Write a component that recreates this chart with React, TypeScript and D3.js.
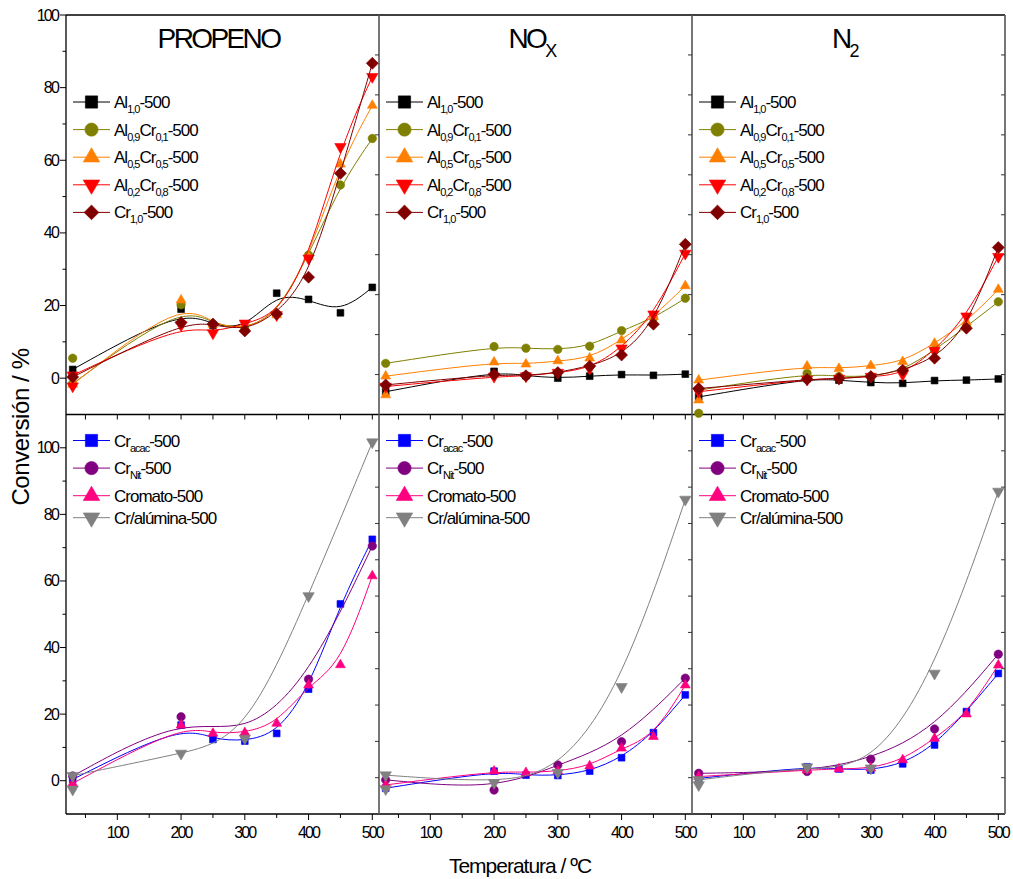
import React from 'react';
import * as d3 from 'd3';

// Reaction temperatures (ºC)
const TEMPS = [30, 200, 250, 300, 350, 400, 450, 500];
const TEMPS_SPARSE = [30, 200, 300, 400, 500];
const X_DOMAIN: [number, number] = [19.5, 510.5];
const X_MAJOR = [100, 200, 300, 400, 500];
const X_MINOR = [50, 150, 250, 350, 450];

// Conversion (%) — upper row: mixed Al/Cr oxides
const propAl10 = [2.4, 19.0, 14.6, 13.5, 23.4, 21.7, 18.0, 25.0];
const propAl09 = [-1.5, 20.2, 14.9, 13.5, 17.6, 33.9, 53.2, 66.0];
const propAl05 = [-1.7, 21.5, 14.8, 13.5, 17.4, 33.5, 58.9, 75.1];
const propAl02 = [0.8, 14.6, 12.4, 15.1, 17.4, 33.0, 63.7, 83.0];
const propCr10 = [0.3, 15.3, 14.9, 13.0, 17.7, 27.8, 56.4, 86.7];

const noxAl10 = [-4.3, 0.8, -0.3, -0.9, -0.4, 0.0, -0.2, 0.1];
const noxAl09 = [2.8, 7.0, 6.6, 6.3, 7.1, 11.0, 14.1, 19.1];
const noxAl05 = [-0.4, 3.1, 2.6, 3.4, 4.1, 8.6, 14.5, 22.2];
const noxAl02 = [-3.0, -0.5, -0.4, 0.5, 1.5, 6.6, 15.1, 30.3];
const noxCr10 = [-2.6, 0.0, -0.3, 0.5, 2.1, 4.9, 12.6, 32.6];

const n2Al10 = [-5.6, -1.0, -1.4, -2.0, -2.2, -1.5, -1.4, -1.1];
const n2Al09 = [-3.9, 0.3, -0.5, -0.5, 1.0, 6.1, 12.0, 18.2];
const n2Al05 = [-1.4, 2.1, 1.5, 2.2, 3.2, 7.8, 13.2, 21.3];
const n2Al02 = [-4.3, -1.2, -1.0, -0.5, 0.0, 6.0, 14.6, 29.5];
const n2Cr10 = [-3.5, -1.2, -1.0, -0.5, 1.1, 4.1, 11.6, 31.8];

// Second reading taken at the starting temperature
const propAl09Repeat = 5.5;
const propAl02Repeat = -2.2;
const noxAl05Repeat = -5.1;
const n2Al09Repeat = -9.7;
const n2Al05Repeat = -6.4;

// Conversion (%) — lower row: Cr catalysts from different precursors
const bpCrAcac = [0.4, 16.7, 12.4, 11.9, 14.2, 27.5, 53.1, 72.5];
const bpCrNit = [1.4, 19.2, 13.4, 30.5, 70.5];
const bpCromato = [-0.8, 16.7, 14.2, 14.4, 17.2, 28.7, 34.8, 61.5];
const bpCrAlum = [1.5, 8.2, 12.7, 55.5, 101.7];

const bnCrAcac = [-2.9, 1.8, 0.7, 0.6, 1.8, 5.5, 12.4, 22.8];
const bnCrNit = [-0.6, -3.4, 3.5, 9.9, 27.4];
const bnCromato = [-2.0, 1.8, 1.4, 1.8, 3.2, 8.1, 11.3, 25.5];
const bnCrAlum = [0.7, -1.4, 1.4, 25.0, 76.6];

const bzCrAcac = [-0.2, 3.0, 2.4, 2.1, 3.8, 9.0, 18.2, 28.7];
const bzCrNit = [1.2, 1.7, 5.1, 13.4, 34.0];
const bzCromato = [0.3, 2.1, 2.4, 2.6, 4.9, 10.8, 17.5, 31.0];
const bzCrAlum = [-0.6, 2.9, 2.6, 28.7, 78.8];

const bpCrAlumRepeat = -2.6;
const bnCrAlumRepeat = -3.1;
const bzCrAlumRepeat = -2.0;

type Seg = [string, boolean];
type Sym = 'square' | 'circle' | 'triangle' | 'triangleDown' | 'diamond';
interface Style { label: Seg[]; color: string; symbol: Sym; }
interface Series extends Style { temps: number[]; values: number[]; repeat?: number; }

const S_AL10: Style = { label: [['Al', false], ['1,0', true], ['-500', false]], color: '#000000', symbol: 'square' };
const S_AL09: Style = { label: [['Al', false], ['0,9', true], ['Cr', false], ['0,1', true], ['-500', false]], color: '#808000', symbol: 'circle' };
const S_AL05: Style = { label: [['Al', false], ['0,5', true], ['Cr', false], ['0,5', true], ['-500', false]], color: '#FF8000', symbol: 'triangle' };
const S_AL02: Style = { label: [['Al', false], ['0,2', true], ['Cr', false], ['0,8', true], ['-500', false]], color: '#FF0000', symbol: 'triangleDown' };
const S_CR10: Style = { label: [['Cr', false], ['1,0', true], ['-500', false]], color: '#800000', symbol: 'diamond' };
const S_ACAC: Style = { label: [['Cr', false], ['acac', true], ['-500', false]], color: '#0000FF', symbol: 'square' };
const S_NIT: Style = { label: [['Cr', false], ['Nit', true], ['-500', false]], color: '#800080', symbol: 'circle' };
const S_CROM: Style = { label: [['Cromato-500', false]], color: '#FF0080', symbol: 'triangle' };
const S_ALUM: Style = { label: [['Cr/alúmina-500', false]], color: '#808080', symbol: 'triangleDown' };

const DATA_SIZE: Record<Sym, number> = { square: 46, circle: 56, triangle: 42, triangleDown: 56, diamond: 72 };
const LEGEND_SIZE: Record<Sym, number> = { square: 150, circle: 138, triangle: 118, triangleDown: 118, diamond: 108 };

const FONT = "'Liberation Sans', Arial, Helvetica, sans-serif";

// Layout of the 3 x 2 grid of panels
const COL_X = [66, 379, 692, 1005];
const ROW_Y = [15, 414.5, 814];

interface Panel {
  col: number;
  row: number;
  yDomain: [number, number];
  title?: Seg[];
  series: Series[];
  labelled: boolean;
}

const panels: Panel[] = [
  {
    col: 0, row: 0, yDomain: [-10, 100], labelled: true, title: [['PROPENO', false]],
    series: [
      { ...S_AL10, temps: TEMPS, values: propAl10 },
      { ...S_AL09, temps: TEMPS, values: propAl09, repeat: propAl09Repeat },
      { ...S_AL05, temps: TEMPS, values: propAl05 },
      { ...S_AL02, temps: TEMPS, values: propAl02, repeat: propAl02Repeat },
      { ...S_CR10, temps: TEMPS, values: propCr10 },
    ],
  },
  {
    col: 1, row: 0, yDomain: [-10, 90], labelled: false, title: [['NO', false], ['X', true]],
    series: [
      { ...S_AL10, temps: TEMPS, values: noxAl10 },
      { ...S_AL09, temps: TEMPS, values: noxAl09 },
      { ...S_AL05, temps: TEMPS, values: noxAl05, repeat: noxAl05Repeat },
      { ...S_AL02, temps: TEMPS, values: noxAl02 },
      { ...S_CR10, temps: TEMPS, values: noxCr10 },
    ],
  },
  {
    col: 2, row: 0, yDomain: [-10, 90], labelled: false, title: [['N', false], ['2', true]],
    series: [
      { ...S_AL10, temps: TEMPS, values: n2Al10 },
      { ...S_AL09, temps: TEMPS, values: n2Al09, repeat: n2Al09Repeat },
      { ...S_AL05, temps: TEMPS, values: n2Al05, repeat: n2Al05Repeat },
      { ...S_AL02, temps: TEMPS, values: n2Al02 },
      { ...S_CR10, temps: TEMPS, values: n2Cr10 },
    ],
  },
  {
    col: 0, row: 1, yDomain: [-10, 110], labelled: true,
    series: [
      { ...S_ACAC, temps: TEMPS, values: bpCrAcac },
      { ...S_NIT, temps: TEMPS_SPARSE, values: bpCrNit },
      { ...S_CROM, temps: TEMPS, values: bpCromato },
      { ...S_ALUM, temps: TEMPS_SPARSE, values: bpCrAlum, repeat: bpCrAlumRepeat },
    ],
  },
  {
    col: 1, row: 1, yDomain: [-10, 100], labelled: false,
    series: [
      { ...S_ACAC, temps: TEMPS, values: bnCrAcac },
      { ...S_NIT, temps: TEMPS_SPARSE, values: bnCrNit },
      { ...S_CROM, temps: TEMPS, values: bnCromato },
      { ...S_ALUM, temps: TEMPS_SPARSE, values: bnCrAlum, repeat: bnCrAlumRepeat },
    ],
  },
  {
    col: 2, row: 1, yDomain: [-10, 100], labelled: false,
    series: [
      { ...S_ACAC, temps: TEMPS, values: bzCrAcac },
      { ...S_NIT, temps: TEMPS_SPARSE, values: bzCrNit },
      { ...S_CROM, temps: TEMPS, values: bzCromato },
      { ...S_ALUM, temps: TEMPS_SPARSE, values: bzCrAlum, repeat: bzCrAlumRepeat },
    ],
  },
];

function symbolPath(sym: Sym, size: number): string {
  const gen = d3.symbol();
  if (sym === 'circle') return gen.type(d3.symbolCircle).size(size)() as string;
  if (sym === 'triangle' || sym === 'triangleDown') return gen.type(d3.symbolTriangle).size(size)() as string;
  return gen.type(d3.symbolSquare).size(size)() as string;
}

function symbolRotation(sym: Sym): number {
  if (sym === 'triangleDown') return 180;
  if (sym === 'diamond') return 45;
  return 0;
}

function Marker({ sym, size, x, y, color }: { sym: Sym; size: number; x: number; y: number; color: string }) {
  return (
    <path
      d={symbolPath(sym, size)}
      transform={`translate(${x},${y}) rotate(${symbolRotation(sym)})`}
      fill={color}
      stroke={color}
      strokeWidth={0.6}
    />
  );
}

function RichText({ segs, x, y, size, subSize, subShift, spacing, anchor }: {
  segs: Seg[]; x: number; y: number; size: number; subSize: number; subShift: number; spacing: number; anchor?: string;
}) {
  return (
    <text x={x} y={y} fontSize={size} letterSpacing={spacing} textAnchor={anchor || 'start'} fill="#000">
      {segs.map(([t, sub], i) => {
        const prevSub = i > 0 && segs[i - 1][1];
        const dy = sub ? subShift : prevSub ? -subShift : 0;
        return (
          <tspan key={i} dy={dy} fontSize={sub ? subSize : size}>{t}</tspan>
        );
      })}
    </text>
  );
}

function PanelView({ p }: { p: Panel }) {
  const x0 = COL_X[p.col];
  const x1 = COL_X[p.col + 1];
  const yTop = ROW_Y[p.row];
  const yBot = ROW_Y[p.row + 1];
  const x = d3.scaleLinear().domain(X_DOMAIN).range([x0, x1]);
  const y = d3.scaleLinear().domain(p.yDomain).range([yBot, yTop]);
  const line = d3.line<[number, number]>().x((d) => x(d[0])).y((d) => y(d[1])).curve(d3.curveBasis);

  const isBottom = p.row === 1;
  const edgeTicks = d3.range(0, p.yDomain[1], 10);
  const majorY = d3.range(0, p.yDomain[1] + 0.001, 20);
  const minorY = d3.range(10, p.yDomain[1] - 5, 20);

  // legend placement
  const lx = x0 + 7;
  let ly = p.row === 0 ? yTop + 87 : yTop + 26;
  const legendRows = p.series.map((s) => {
    const hasSub = s.label.some((g) => g[1]);
    const row = { s, y: ly };
    ly += hasSub ? 27.6 : 22;
    return row;
  });

  return (
    <g>
      {/* axis ticks */}
      {p.labelled && (
        <g stroke="#000" strokeWidth={1}>
          {majorY.map((v) => (
            <line key={`M${v}`} x1={x0 - 6} x2={x0} y1={y(v)} y2={y(v)} />
          ))}
          {minorY.map((v) => (
            <line key={`m${v}`} x1={x0 - 3.5} x2={x0} y1={y(v)} y2={y(v)} />
          ))}
        </g>
      )}
      {p.labelled && majorY.map((v) => (
        <text key={`L${v}`} x={x0 - 8} y={y(v) + 5.5} fontSize={16} letterSpacing={-1.8} textAnchor="end" fill="#000">
          {v}
        </text>
      ))}
      {!p.labelled && (
        <g stroke="#333" strokeWidth={1}>
          {edgeTicks.map((v) => (
            <line key={`e${v}`} x1={x0 - 4} x2={x0} y1={y(v)} y2={y(v)} />
          ))}
          {p.col === 2 && edgeTicks.map((v) => (
            <line key={`r${v}`} x1={x1 - 4} x2={x1} y1={y(v)} y2={y(v)} />
          ))}
        </g>
      )}
      {isBottom && (
        <g stroke="#000" strokeWidth={1}>
          {X_MAJOR.map((v) => (
            <line key={`xM${v}`} x1={x(v)} x2={x(v)} y1={yBot} y2={yBot + 6} />
          ))}
          {X_MINOR.map((v) => (
            <line key={`xm${v}`} x1={x(v)} x2={x(v)} y1={yBot} y2={yBot + 4} />
          ))}
          {[...X_MAJOR, ...X_MINOR].map((v) => (
            <line key={`xt${v}`} x1={x(v)} x2={x(v)} y1={yTop} y2={yTop + 5} />
          ))}
        </g>
      )}
      {isBottom && X_MAJOR.map((v) => (
        <text key={`xl${v}`} x={x(v)} y={yBot + 24} fontSize={16} letterSpacing={-1.8} textAnchor="middle" fill="#000">
          {v}
        </text>
      ))}

      {/* series */}
      {p.series.map((s, si) => {
        const pts: [number, number][] = s.temps.map((t, i) => [t, s.values[i]]);
        return (
          <g key={si}>
            <path d={line(pts) as string} fill="none" stroke={s.color} strokeWidth={1} />
            {s.repeat !== undefined && (
              <Marker sym={s.symbol} size={DATA_SIZE[s.symbol]} x={x(s.temps[0])} y={y(s.repeat)} color={s.color} />
            )}
            {pts.map((d, i) => (
              <Marker key={i} sym={s.symbol} size={DATA_SIZE[s.symbol]} x={x(d[0])} y={y(d[1])} color={s.color} />
            ))}
          </g>
        );
      })}

      {/* title */}
      {p.title && (
        <RichText segs={p.title} x={(x0 + x1) / 2 - 4} y={yTop + 33} size={28} subSize={18} subShift={9} spacing={-2.6} anchor="middle" />
      )}

      {/* legend */}
      {legendRows.map(({ s, y: ry }, i) => (
        <g key={`lg${i}`}>
          <line x1={lx} x2={lx + 37} y1={ry} y2={ry} stroke={s.color} strokeWidth={1} />
          <Marker sym={s.symbol} size={LEGEND_SIZE[s.symbol]} x={lx + 18.5} y={ry} color={s.color} />
          <RichText segs={s.label} x={lx + 41} y={ry + 6} size={17} subSize={11} subShift={5} spacing={-1} />
        </g>
      ))}
    </g>
  );
}

export default function App() {
  return (
    <svg
      width={1013}
      height={879}
      viewBox="0 0 1013 879"
      style={{ position: 'absolute', left: 0, top: 0, background: '#fff' }}
      fontFamily={FONT}
    >
      <rect x={0} y={0} width={1013} height={879} fill="#fff" />
      {/* panel frames */}
      <g fill="none">
        {ROW_Y.map((yy, i) => (
          <line key={`h${i}`} x1={COL_X[0]} x2={COL_X[3]} y1={yy} y2={yy} stroke="#000" strokeWidth={1.3} />
        ))}
        <line x1={COL_X[0]} x2={COL_X[0]} y1={ROW_Y[0]} y2={ROW_Y[2]} stroke="#000" strokeWidth={1.3} />
        {COL_X.slice(1).map((xx, i) => (
          <line key={`v${i}`} x1={xx} x2={xx} y1={ROW_Y[0]} y2={ROW_Y[2]} stroke="#555" strokeWidth={1.6} />
        ))}
      </g>
      {panels.map((p, i) => (
        <PanelView key={i} p={p} />
      ))}
      <text
        transform="translate(29,427) rotate(-90)"
        fontSize={24}
        letterSpacing={-0.4}
        textAnchor="middle"
        fill="#000"
      >
        Conversión / %
      </text>
      <text x={520} y={873} fontSize={21} letterSpacing={-1} textAnchor="middle" fill="#000">
        Temperatura / ºC
      </text>
    </svg>
  );
}
